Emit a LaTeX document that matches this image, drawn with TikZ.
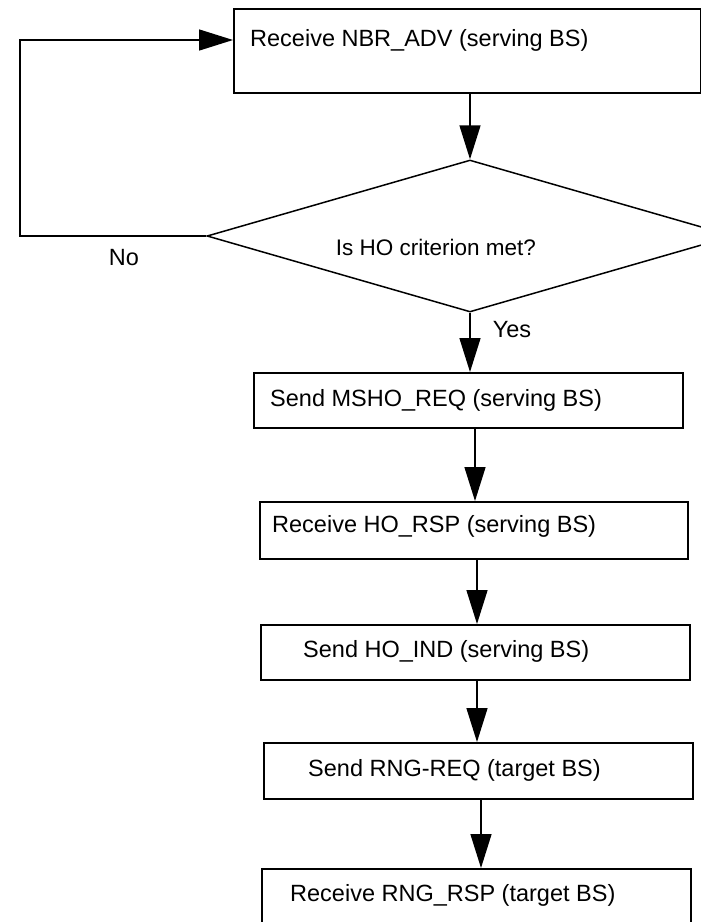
\documentclass[tikz,border=0pt]{standalone}
\usepackage{fontspec}
\setmainfont{Liberation Sans}
\usetikzlibrary{arrows.meta,shapes.geometric}
\begin{document}
\begin{tikzpicture}[x=1pt,y=-1pt,
  box/.style={draw, line width=1.5pt, rectangle, inner sep=0pt, anchor=north west},
  lbl/.style={inner sep=0pt, anchor=west, font=\fontsize{23.5}{28}\selectfont},
  tag/.style={inner sep=0pt, font=\fontsize{23.5}{28}\selectfont},
  arr/.style={line width=1.5pt, -{Triangle[length=34pt,width=21pt]}},
  decision/.style={draw, line width=1.5pt, diamond, inner sep=0pt}]
\useasboundingbox (0,0) rectangle (701,922);
\fill[white] (0,0) rectangle (701,922);
\clip (0,0) rectangle (701,922);

% boxes
\node[box, minimum width=467pt, minimum height=84pt] (b1) at (233,8) {};
\node[lbl] (t1) at (250,40) {Receive NBR\_ADV (serving BS)};

\node[decision, minimum width=526pt, minimum height=152pt] (d) at (470,236) {};
\node[tag, font=\fontsize{22.5}{27}\selectfont] (q) at (436,247) {Is HO criterion met?};

\node[box, minimum width=429pt, minimum height=55pt] (b2) at (253,372) {};
\node[lbl] (t2) at (270,400) {Send MSHO\_REQ (serving BS)};

\node[box, minimum width=428pt, minimum height=57pt] (b3) at (259,501) {};
\node[lbl] (t3) at (272,526) {Receive HO\_RSP (serving BS)};

\node[box, minimum width=429pt, minimum height=55pt] (b4) at (260,624) {};
\node[lbl] (t4) at (303,651) {Send HO\_IND (serving BS)};

\node[box, minimum width=429pt, minimum height=56pt] (b5) at (263,742) {};
\node[lbl] (t5) at (308,770) {Send RNG-REQ (target BS)};

\node[box, minimum width=429pt, minimum height=72pt] (b6) at (261,868) {};
\node[lbl] (t6) at (290,895) {Receive RNG\_RSP (target BS)};

% column positions
\coordinate (c2) at (475,0);
\coordinate (c3) at (477,0);
\coordinate (c4) at (477,0);
\coordinate (c5) at (481,0);
\coordinate (lc) at (20,0);

% connectors
\draw[arr] (d.north |- b1.south) -- (d.north);
\draw[arr] (d.south) -- (d.south |- b2.north);
\draw[arr] (b2.south -| c2) -- (b3.north -| c2);
\draw[arr] (b3.south -| c3) -- (b4.north -| c3);
\draw[arr] (b4.south -| c4) -- (b5.north -| c4);
\draw[arr] (b5.south -| c5) -- (b6.north -| c5);
\draw[arr] (d.west) -- (d.west -| lc) |- (b1.west |- t1.west);

% labels
\node[tag] (no) at (124,258) {No};
\node[tag] (yes) at (512,330) {Yes};
\end{tikzpicture}
\end{document}
